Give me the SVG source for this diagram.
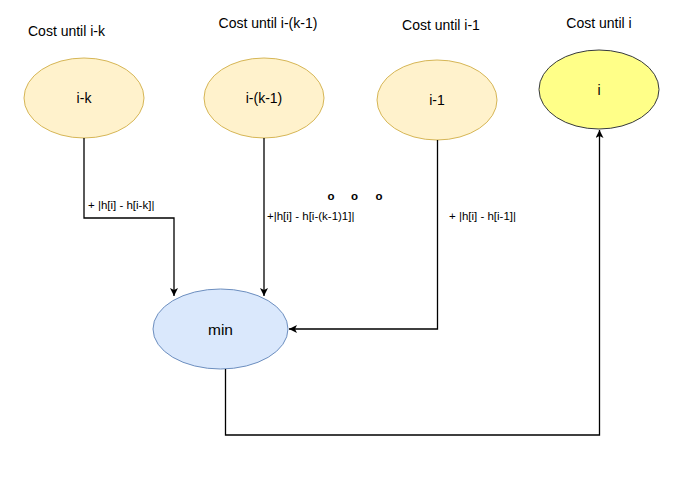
<svg xmlns="http://www.w3.org/2000/svg" width="681" height="478" viewBox="0 0 681 478">
<defs>
<marker id="arr" markerWidth="10" markerHeight="10" refX="8" refY="4" orient="auto" markerUnits="userSpaceOnUse">
<path d="M0,0 L8,4 L0,8 L2,4 Z" fill="#000"/>
</marker>
<style>
text{font-family:"Liberation Sans",Arial,sans-serif;fill:#000;}
.t{font-size:14px;text-anchor:middle;}
.n{font-size:14px;text-anchor:middle;}
.e{font-size:11.5px;}
.c{fill:none;stroke:#000;stroke-width:1.3;}
.y{fill:#fff2cc;stroke:#d6b656;}
</style>
</defs>
<rect width="681" height="478" fill="#fff"/>
<g id="labels">
<text class="t" x="66.5" y="36">Cost until i-k</text>
<text class="t" x="268" y="28">Cost until i-(k-1)</text>
<text class="t" x="441" y="30">Cost until i-1</text>
<text class="t" x="599" y="28">Cost until i</text>
</g>
<g id="node-ik">
<ellipse class="y" cx="84" cy="98" rx="60" ry="40"/>
<text class="n" x="84" y="103">i-k</text>
</g>
<g id="node-ik1">
<ellipse class="y" cx="264" cy="98" rx="60" ry="40"/>
<text class="n" x="264" y="103">i-(k-1)</text>
</g>
<g id="node-i1">
<ellipse class="y" cx="437" cy="100" rx="60" ry="40"/>
<text class="n" x="437" y="105">i-1</text>
</g>
<g id="node-i">
<ellipse cx="599" cy="89.5" rx="60" ry="39.5" fill="#ffff88" stroke="#36393d"/>
<text class="n" x="599" y="94.5">i</text>
</g>
<g id="node-min">
<ellipse cx="220.5" cy="329" rx="67.5" ry="40" fill="#dae8fc" stroke="#6c8ebf"/>
<text class="n" x="220.5" y="335" style="font-size:15.5px">min</text>
</g>
<g id="connectors">
<path class="c" d="M84,138 V218 H174 V296" marker-end="url(#arr)"/>
<path class="c" d="M264,138 V296" marker-end="url(#arr)"/>
<path class="c" d="M437.5,140 V329 H289" marker-end="url(#arr)"/>
<path class="c" d="M225.5,369 V435 H599.5 V130" marker-end="url(#arr)"/>
<text class="e" x="88" y="208.5">+ |h[i] - h[i-k]|</text>
<text class="e" x="267" y="219.5">+|h[i] - h[i-(k-1)1]|</text>
<text class="e" x="449" y="220">+ |h[i] - h[i-1]|</text>
<text class="e" x="331" y="199.5" text-anchor="middle" font-weight="bold">o</text>
<text class="e" x="354.5" y="199.5" text-anchor="middle" font-weight="bold">o</text>
<text class="e" x="379" y="199.5" text-anchor="middle" font-weight="bold">o</text>
</g>
</svg>
